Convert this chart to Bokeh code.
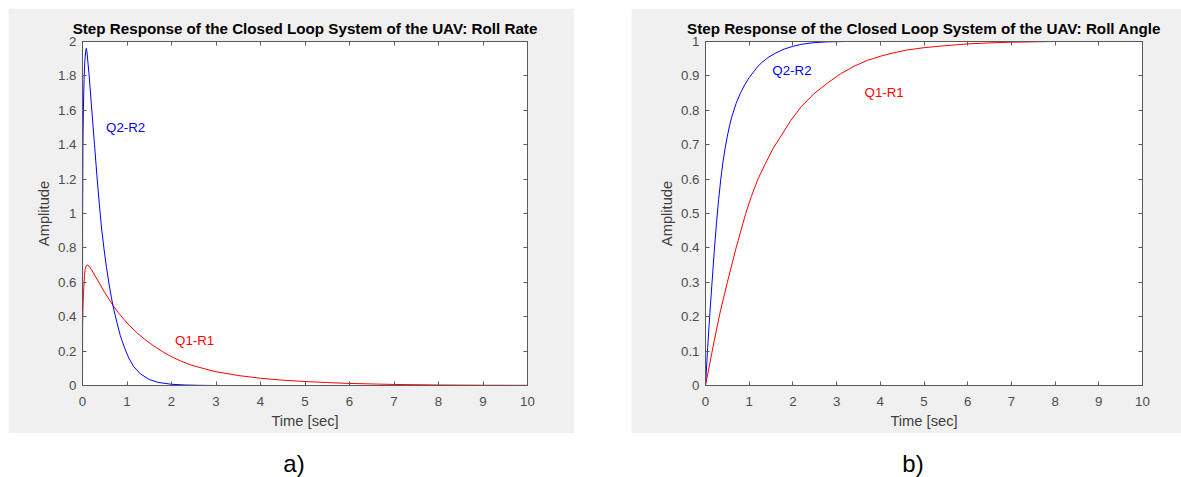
from bokeh.plotting import figure
from bokeh.models import Range1d, LinearAxis, FixedTicker, Div, ColumnDataSource, Spacer
from bokeh.layouts import row, column
from bokeh.embed import file_html
from bokeh.resources import INLINE
from bokeh.core.properties import value

# ---------------- data ----------------
# a) Roll rate
rate_q1_t = [0, 0.002, 0.01, 0.02, 0.03, 0.045, 0.06, 0.08, 0.11, 0.15, 0.2, 0.3, 0.4, 0.5,
             0.6, 0.7, 0.8, 0.93, 1.05, 1.23, 1.4, 1.6, 1.8, 1.98, 2.2, 2.43, 2.7, 3.0, 3.5,
             4.0, 4.5, 5.0, 5.5, 6.0, 7.0, 8.0, 9.0, 10.0]
rate_q1_y = [0, 0.34, 0.45, 0.52, 0.57, 0.64, 0.675, 0.695, 0.70, 0.693, 0.675, 0.63, 0.585, 0.54,
             0.50, 0.46, 0.425, 0.385, 0.35, 0.305, 0.268, 0.23, 0.197, 0.17, 0.143, 0.12, 0.10,
             0.08, 0.058, 0.042, 0.031, 0.023, 0.017, 0.012, 0.006, 0.003, 0.0015, 0.001]
rate_q2_t = [0, 0.003, 0.01, 0.02, 0.035, 0.05, 0.07, 0.085, 0.1, 0.15, 0.2, 0.27, 0.33, 0.38,
             0.43, 0.485, 0.54, 0.6, 0.65, 0.7, 0.78, 0.85, 0.95, 1.04, 1.15, 1.3, 1.5, 1.7,
             2.0, 2.3, 2.6, 3.0, 4.0, 5.0, 6.0, 7.0, 8.0, 9.0, 10.0]
rate_q2_y = [0, 1.0, 1.4, 1.6, 1.78, 1.88, 1.94, 1.96, 1.94, 1.8, 1.63, 1.4, 1.2, 1.05,
             0.91, 0.79, 0.685, 0.585, 0.51, 0.445, 0.36, 0.29, 0.215, 0.16, 0.11, 0.068, 0.035,
             0.018, 0.007, 0.003, 0.001, 0, 0, 0, 0, 0, 0, 0, 0]

# b) Roll angle
angle_q1_t = [0, 0.1, 0.2, 0.33, 0.5, 0.7, 0.92, 1.05, 1.2, 1.37, 1.55, 1.75, 1.95, 2.2, 2.48,
              2.8, 3.09, 3.4, 3.7, 4.0, 4.3, 4.6, 5.0, 5.5, 6.0, 6.5, 7.0, 8.0, 9.0, 10.0]
angle_q1_y = [0, 0.065, 0.13, 0.21, 0.30, 0.40, 0.50, 0.55, 0.60, 0.645, 0.69, 0.73, 0.77, 0.812,
              0.848, 0.88, 0.906, 0.928, 0.945, 0.957, 0.967, 0.975, 0.982, 0.988, 0.993, 0.996,
              0.998, 1.0, 1.0, 1.0]
angle_q2_t = [0, 0.05, 0.1, 0.15, 0.2, 0.25, 0.3, 0.35, 0.4, 0.45, 0.5, 0.55, 0.6, 0.7, 0.8,
              0.9, 1.0, 1.1, 1.2, 1.3, 1.45, 1.6, 1.8, 2.0, 2.2, 2.5, 2.8, 3.2, 4.0, 5.0, 6.0,
              7.0, 8.0, 9.0, 10.0]
angle_q2_y = [0, 0.11, 0.21, 0.30, 0.39, 0.47, 0.54, 0.60, 0.65, 0.69, 0.725, 0.755, 0.78, 0.82,
              0.85, 0.875, 0.895, 0.912, 0.928, 0.94, 0.955, 0.966, 0.978, 0.986, 0.992, 0.997,
              0.999, 1.0, 1.0, 1.0, 1.0, 1.0, 1.0, 1.0, 1.0]

x_ticks = [0, 1, 2, 3, 4, 5, 6, 7, 8, 9, 10]
rate_y_ticks = [0, 0.2, 0.4, 0.6, 0.8, 1.0, 1.2, 1.4, 1.6, 1.8, 2.0]
rate_y_labels = ["0", "0.2", "0.4", "0.6", "0.8", "1", "1.2", "1.4", "1.6", "1.8", "2"]
angle_y_ticks = [0, 0.1, 0.2, 0.3, 0.4, 0.5, 0.6, 0.7, 0.8, 0.9, 1.0]
angle_y_labels = ["0", "0.1", "0.2", "0.3", "0.4", "0.5", "0.6", "0.7", "0.8", "0.9", "1"]

rate_label_text = ["Q1-R1", "Q2-R2"]
rate_label_t = [2.08, 0.53]
rate_label_y = [0.26, 1.5]
angle_label_text = ["Q1-R1", "Q2-R2"]
angle_label_t = [3.64, 1.53]
angle_label_y = [0.851, 0.916]
label_colors = ["#ff0000", "#0000ff"]

titles = ["Step Response of the Closed Loop System of the UAV: Roll Rate",
          "Step Response of the Closed Loop System of the UAV: Roll Angle"]
captions = ["a)", "b)"]

FONT = "Liberation Sans"
AX = "#5a5a5a"
LBL = "#404040"


def make_panel(width, right_border, ymax, yticks, ylabels, series, lbl_t, lbl_y, lbl_text, title):
    p = figure(width=width, height=425, output_backend="svg", toolbar_location=None,
               x_range=Range1d(0, 10), y_range=Range1d(0, ymax),
               min_border_left=74, min_border_right=right_border,
               min_border_top=33, min_border_bottom=48,
               background_fill_color="white", border_fill_color="#f0f0f0")
    p.grid.visible = False
    p.outline_line_color = AX
    p.outline_line_width = 1

    xt = FixedTicker(ticks=x_ticks)
    yt = FixedTicker(ticks=yticks)
    overrides = {t: s for t, s in zip(yticks, ylabels)}

    for ax in p.xaxis:
        ax.ticker = xt
        ax.axis_label = "Time [sec]"
        ax.axis_label_standoff = 4
        ax.major_label_standoff = 11
        ax.axis_label_text_font_size = "14.7px"
    for ax in p.yaxis:
        ax.ticker = yt
        ax.major_label_overrides = overrides
        ax.axis_label = "Amplitude"
        ax.axis_label_standoff = 3
        ax.major_label_standoff = 6
        ax.axis_label_text_font_size = "14.7px"
    for ax in list(p.xaxis) + list(p.yaxis):
        ax.axis_label_text_font = FONT
        ax.axis_label_text_font_style = "normal"
        ax.axis_label_text_color = LBL
        ax.major_label_text_font = FONT
        ax.major_label_text_font_size = "13.3px"
        ax.major_label_text_color = "#4d4d4d"
        ax.axis_line_color = AX
        ax.major_tick_line_color = AX
        ax.major_tick_in = 4
        ax.major_tick_out = 0
        ax.minor_tick_line_color = None

    # box ticks on top and right (no labels)
    top = LinearAxis(ticker=xt, major_label_text_font_size="0px", major_label_text_color=None,
                     major_label_standoff=0,
                     axis_line_color=AX, major_tick_line_color=AX, major_tick_in=4,
                     major_tick_out=0, minor_tick_line_color=None)
    right = LinearAxis(ticker=yt, major_label_text_font_size="0px", major_label_text_color=None,
                       major_label_standoff=0,
                       axis_line_color=AX, major_tick_line_color=AX, major_tick_in=4,
                       major_tick_out=0, minor_tick_line_color=None)
    p.add_layout(top, "above")
    p.add_layout(right, "right")

    p.title.text = title
    p.title.align = "center"
    p.title.text_font = FONT
    p.title.text_font_size = "15.2px"
    p.title.text_font_style = "bold"
    p.title.text_color = "black"
    p.title.standoff = 9

    for (t, y, c) in series:
        p.line(t, y, line_color=c, line_width=1)

    src = ColumnDataSource(dict(x=lbl_t, y=lbl_y, text=lbl_text, color=label_colors))
    p.text(x="x", y="y", text="text", text_color="color", source=src,
           text_font=value(FONT), text_font_size="13.3px",
           text_align="left", text_baseline="middle")
    return p


pa = make_panel(566, 47, 2.0, rate_y_ticks, rate_y_labels,
                [(rate_q1_t, rate_q1_y, "#ff0000"), (rate_q2_t, rate_q2_y, "#0000ff")],
                rate_label_t, rate_label_y, rate_label_text, titles[0])
pb = make_panel(550, 39, 1.0, angle_y_ticks, angle_y_labels,
                [(angle_q1_t, angle_q1_y, "#ff0000"), (angle_q2_t, angle_q2_y, "#0000ff")],
                angle_label_t, angle_label_y, angle_label_text, titles[1])

cap_style = ("font-family:'Liberation Sans'; font-size:24px; line-height:24px; color:#000;"
             " text-align:center; padding-top:19px; margin:0; box-sizing:border-box;")
ca = Div(text=f'<div style="{cap_style} width:566px; padding-left:6px;">{captions[0]}</div>',
         width=566, height=44, margin=0)
cb = Div(text=f'<div style="{cap_style} width:550px; padding-left:14px;">{captions[1]}</div>',
         width=550, height=44, margin=0)

body = row(column(pa, ca, spacing=0), column(pb, cb, spacing=0), spacing=57)
layout = column(Spacer(height=8, width=1181, margin=0),
                row(Spacer(width=8, height=469, margin=0), body, spacing=0),
                spacing=0)

open("out.html", "w").write(file_html(layout, INLINE))
